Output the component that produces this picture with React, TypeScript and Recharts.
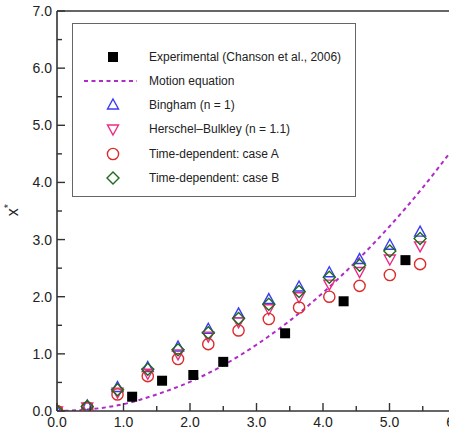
import React from 'react';
import {
  ComposedChart,
  Scatter,
  Line,
  XAxis,
  YAxis,
  ReferenceLine,
  Legend,
} from 'recharts';

// simulation time steps (shared by the four model series)
const simT = [0, 0.455, 0.91, 1.365, 1.82, 2.275, 2.73, 3.185, 3.64, 4.095, 4.55, 5.005, 5.46];
const bingham = [0, 0.09, 0.41, 0.76, 1.12, 1.43, 1.7, 1.95, 2.17, 2.42, 2.65, 2.9, 3.13];
const herschel = [0, 0.07, 0.33, 0.66, 1.0, 1.31, 1.56, 1.79, 2.0, 2.22, 2.44, 2.66, 2.89];
const caseA = [0, 0.06, 0.29, 0.61, 0.91, 1.17, 1.41, 1.61, 1.81, 2.0, 2.19, 2.38, 2.57];
const caseB = [0, 0.08, 0.37, 0.73, 1.07, 1.37, 1.62, 1.87, 2.09, 2.34, 2.55, 2.8, 3.02];

// experiments (Chanson et al., 2006)
const expT = [1.13, 1.58, 2.05, 2.5, 3.43, 4.31, 5.24];
const expX = [0.25, 0.53, 0.63, 0.86, 1.36, 1.92, 2.64];

// motion equation curve
const motionT = [0, 0.5, 1, 1.5, 2, 2.5, 3, 3.5, 4, 4.5, 5, 5.5, 6];
const motionX = [0, 0.03, 0.12, 0.29, 0.51, 0.8, 1.16, 1.58, 2.07, 2.62, 3.23, 3.91, 4.66];

const xTicks = [0, 0.5, 1, 1.5, 2, 2.5, 3, 3.5, 4, 4.5, 5, 5.5, 6];
const yTicks = [0, 0.5, 1, 1.5, 2, 2.5, 3, 3.5, 4, 4.5, 5, 5.5, 6, 6.5, 7];

const toPoints = (xs: number[], ys: number[]) => xs.map((x, i) => ({ x, y: ys[i] }));

const FONT = '"Liberation Sans", Arial, Helvetica, sans-serif';
const AXIS = '#333';

const BLUE = '#3b3bf2';
const PINK = '#ec2a86';
const RED = '#dd2b2b';
const GREEN = '#1b6b1b';
const PURPLE = '#b02ac8';

const Square = ({ cx, cy }: any) => <rect x={cx - 5} y={cy - 5} width={10} height={10} fill="#000" />;
const TriUp = ({ cx, cy }: any) => (
  <polygon points={`${cx},${cy - 6} ${cx + 5.5},${cy + 4} ${cx - 5.5},${cy + 4}`} fill="none" stroke={BLUE} strokeWidth={1.4} />
);
const TriDown = ({ cx, cy }: any) => (
  <polygon points={`${cx},${cy + 6} ${cx + 5.5},${cy - 4} ${cx - 5.5},${cy - 4}`} fill="none" stroke={PINK} strokeWidth={1.4} />
);
const Circ = ({ cx, cy }: any) => <circle cx={cx} cy={cy} r={5.6} fill="none" stroke={RED} strokeWidth={1.4} />;
const Diamond = ({ cx, cy }: any) => (
  <polygon points={`${cx},${cy - 6} ${cx + 6},${cy} ${cx},${cy + 6} ${cx - 6},${cy}`} fill="none" stroke={GREEN} strokeWidth={1.4} />
);

const isMajor = (v: number) => Math.abs(v - Math.round(v)) < 1e-6;

const XTick = ({ x, y, payload }: any) => {
  const major = isMajor(payload.value);
  return (
    <g>
      <line x1={x} x2={x} y1={y} y2={y - (major ? 8 : 5)} stroke={AXIS} strokeWidth={1.4} />
      {major && (
        <text x={x} y={y + 16} textAnchor="middle" fontSize={14} fontFamily={FONT} fill="#222">
          {payload.value.toFixed(1)}
        </text>
      )}
    </g>
  );
};

const YTick = ({ x, y, payload }: any) => {
  const major = isMajor(payload.value);
  return (
    <g>
      <line x1={x} x2={x + (major ? 8 : 5)} y1={y} y2={y} stroke={AXIS} strokeWidth={1.4} />
      {major && (
        <text x={x - 5} y={y + 5} textAnchor="end" fontSize={14} fontFamily={FONT} fill="#222">
          {payload.value.toFixed(1)}
        </text>
      )}
    </g>
  );
};

const legendRows = [
  { name: 'Experimental (Chanson et al., 2006)', icon: <Square cx={40} cy={10} /> },
  { name: 'Motion equation', icon: <line x1={11} x2={64} y1={10} y2={10} stroke={PURPLE} strokeWidth={2} strokeDasharray="4 3.5" /> },
  { name: 'Bingham (n = 1)', icon: <TriUp cx={40} cy={10} /> },
  { name: 'Herschel\u2013Bulkley (n = 1.1)', icon: <TriDown cx={40} cy={10} /> },
  { name: 'Time-dependent: case A', icon: <Circ cx={40} cy={10} /> },
  { name: 'Time-dependent: case B', icon: <Diamond cx={40} cy={10} /> },
];
const rowTops = [34, 58, 82, 106, 131, 155];

const LegendBox = () => (
  <div
    style={{
      position: 'relative',
      width: 284,
      height: 174,
      boxSizing: 'border-box',
      border: '1.5px solid #666',
      background: '#fff',
      fontFamily: FONT,
      fontSize: 12,
      color: '#222',
    }}
  >
    {legendRows.map((r, i) => (
      <div key={r.name} style={{ position: 'absolute', left: 0, top: rowTops[i] - 11, height: 20, width: 280 }}>
        <svg width={70} height={20} style={{ position: 'absolute', left: 0, top: 0, overflow: 'visible' }}>
          {r.icon}
        </svg>
        <span style={{ position: 'absolute', left: 76, top: 3, whiteSpace: 'nowrap', lineHeight: '14px' }}>{r.name}</span>
      </div>
    ))}
  </div>
);

const YTitle = () => (
  <text x={18} y={210} transform="rotate(-90 18 210)" textAnchor="middle" fontSize={16} fontFamily={FONT} fill="#222">
    x<tspan dy={-6} fontSize={11}>*</tspan>
  </text>
);

export default function App() {
  return (
    <div style={{ position: 'absolute', left: 0, top: 0, width: 449, height: 432, overflow: 'hidden', background: '#fff' }}>
      <ComposedChart width={470} height={432} margin={{ top: 11, right: 14, bottom: 0, left: 0 }}>
        <XAxis
          dataKey="x"
          type="number"
          domain={[0, 6]}
          ticks={xTicks}
          interval={0}
          tickSize={0}
          tickMargin={0}
          height={21}
          tick={<XTick />}
          axisLine={{ stroke: AXIS, strokeWidth: 1.6 }}
          allowDataOverflow
        />
        <YAxis
          dataKey="y"
          type="number"
          domain={[0, 7]}
          ticks={yTicks}
          interval={0}
          tickSize={0}
          tickMargin={0}
          width={57}
          tick={<YTick />}
          axisLine={{ stroke: AXIS, strokeWidth: 1.6 }}
          label={{ content: () => <YTitle /> }}
          allowDataOverflow
        />
        <ReferenceLine y={7} stroke={AXIS} strokeWidth={1.6} />
        <ReferenceLine x={6} stroke={AXIS} strokeWidth={1.6} />
        <Line
          data={toPoints(motionT, motionX)}
          dataKey="y"
          type="monotone"
          stroke={PURPLE}
          strokeWidth={2}
          strokeDasharray="4 3.5"
          dot={false}
          activeDot={false}
          isAnimationActive={false}
        />
        <Scatter data={toPoints(expT, expX)} dataKey="y" shape={(p: any) => <Square {...p} />} isAnimationActive={false} />
        <Scatter data={toPoints(simT, bingham)} dataKey="y" shape={(p: any) => <TriUp {...p} />} isAnimationActive={false} />
        <Scatter data={toPoints(simT, herschel)} dataKey="y" shape={(p: any) => <TriDown {...p} />} isAnimationActive={false} />
        <Scatter data={toPoints(simT, caseA)} dataKey="y" shape={(p: any) => <Circ {...p} />} isAnimationActive={false} />
        <Scatter data={toPoints(simT, caseB)} dataKey="y" shape={(p: any) => <Diamond {...p} />} isAnimationActive={false} />
        <Legend
          layout="horizontal"
          verticalAlign="middle"
          align="center"
          wrapperStyle={{ left: 72, top: 23, width: 284, height: 174 }}
          content={() => <LegendBox />}
        />
      </ComposedChart>
    </div>
  );
}
